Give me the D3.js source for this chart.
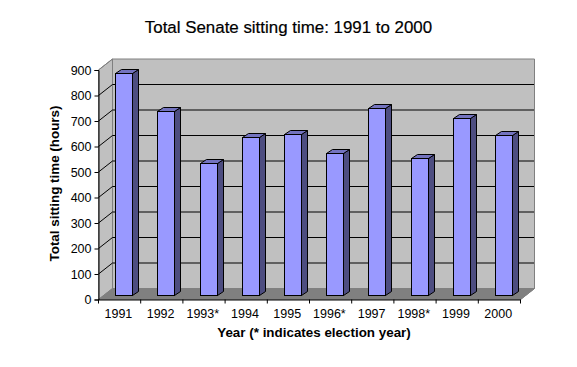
<!DOCTYPE html>
<html>
<head>
<meta charset="utf-8">
<script src="https://cdn.jsdelivr.net/npm/d3@7"></script>
<style>
html, body { margin: 0; padding: 0; background: #fff; }
svg { display: block; }
text { font-family: "Liberation Sans", Arial, sans-serif; fill: #000; }
</style>
</head>
<body>
<div class="container"></div>
<script>
const WIDTH = 577;
const HEIGHT = 367;

// front plane of the 3D box
const LEFT = 98.5, RIGHT = 520.5, TOP = 70, BOTTOM = 299.5;
// depth of the box and of each bar
const DEPTH_X = 14, DEPTH_Y = 11;
const BAR_X = 6, BAR_Y = 4;

var years = ['1991', '1992', '1993*', '1994', '1995', '1996*', '1997', '1998*', '1999', '2000'];
var hours = [871, 722, 518, 622, 633, 558, 735, 538, 695, 628];
var yTicks = [0, 100, 200, 300, 400, 500, 600, 700, 800, 900];

var xScale = d3.scaleBand()
    .domain(years)
    .range([LEFT, RIGHT])
    .paddingInner(0.6)
    .paddingOuter(0.3);

var yScale = d3.scaleLinear()
    .domain([0, 900])
    .range([BOTTOM, TOP]);

var poly = function(pts) {
    return pts.map(function(p) { return p.join(','); }).join(' ');
};

var svg = d3.select('.container').append('svg')
    .attr('width', WIDTH)
    .attr('height', HEIGHT);

// walls and floor
svg.append('polygon')
    .attr('points', poly([[LEFT + DEPTH_X, TOP - DEPTH_Y], [RIGHT + DEPTH_X, TOP - DEPTH_Y], [RIGHT + DEPTH_X, BOTTOM - DEPTH_Y], [LEFT + DEPTH_X, BOTTOM - DEPTH_Y]]))
    .attr('fill', '#c0c0c0')
    .attr('stroke', '#808080');
svg.append('polygon')
    .attr('points', poly([[LEFT, TOP], [LEFT + DEPTH_X, TOP - DEPTH_Y], [LEFT + DEPTH_X, BOTTOM - DEPTH_Y], [LEFT, BOTTOM]]))
    .attr('fill', '#c0c0c0')
    .attr('stroke', '#808080');
svg.append('polygon')
    .attr('points', poly([[LEFT, BOTTOM], [LEFT + DEPTH_X, BOTTOM - DEPTH_Y], [RIGHT + DEPTH_X, BOTTOM - DEPTH_Y], [RIGHT, BOTTOM]]))
    .attr('fill', '#808080')
    .attr('stroke', '#808080');

// gridlines, slanted up the side wall then across the back
svg.append('g').selectAll('polyline')
    .data(yTicks.slice(1, -1))
    .join('polyline')
    .attr('points', function(d) {
        var y = yScale(d);
        return poly([[LEFT, y], [LEFT + DEPTH_X, y - DEPTH_Y], [RIGHT + DEPTH_X, y - DEPTH_Y]]);
    })
    .attr('fill', 'none')
    .attr('stroke', '#000');

svg.append('polyline')
    .attr('points', poly([[RIGHT, BOTTOM], [RIGHT + DEPTH_X, BOTTOM - DEPTH_Y], [RIGHT + DEPTH_X, TOP - DEPTH_Y]]))
    .attr('fill', 'none')
    .attr('stroke', '#808080');
svg.append('line')
    .attr('x1', LEFT).attr('y1', TOP)
    .attr('x2', LEFT + DEPTH_X).attr('y2', TOP - DEPTH_Y)
    .attr('stroke', '#808080');

// bars
var bars = svg.append('g').selectAll('g')
    .data(years)
    .join('g')
    .attr('stroke', '#000')
    .attr('stroke-width', 1)
    .attr('stroke-linejoin', 'miter');

var barLeft = function(d) { return Math.round(xScale(d) + BAR_Y) + 0.5; };
var barRight = function(d) { return barLeft(d) + 17; };
var barTop = function(d, i) { return Math.round(yScale(hours[i]) - BAR_Y) + 0.5; };
var barBase = BOTTOM - BAR_Y;

bars.append('polygon')
    .attr('points', function(d, i) {
        return poly([[barRight(d), barTop(d, i)], [barRight(d) + BAR_X, barTop(d, i) - BAR_Y], [barRight(d) + BAR_X, barBase - BAR_Y], [barRight(d), barBase]]);
    })
    .attr('fill', '#4d4d80');

bars.append('polygon')
    .attr('points', function(d, i) {
        return poly([[barLeft(d), barTop(d, i)], [barLeft(d) + BAR_X, barTop(d, i) - BAR_Y], [barRight(d) + BAR_X, barTop(d, i) - BAR_Y], [barRight(d), barTop(d, i)]]);
    })
    .attr('fill', '#7373bf');

bars.append('rect')
    .attr('x', barLeft)
    .attr('y', barTop)
    .attr('width', function(d) { return barRight(d) - barLeft(d); })
    .attr('height', function(d, i) { return barBase - barTop(d, i); })
    .attr('fill', '#9999ff');

// axes
var yAxis = d3.axisLeft(yScale).tickValues(yTicks).tickSize(4).tickPadding(3);
var yG = svg.append('g')
    .attr('transform', 'translate(' + LEFT + ',0)')
    .call(yAxis);
yG.selectAll('text').attr('font-size', 12.5).style('font-family', '"Liberation Sans", Arial, sans-serif');

var xAxis = d3.axisBottom(xScale).tickSize(0).tickPadding(10);
var xG = svg.append('g')
    .attr('transform', 'translate(0,' + BOTTOM + ')')
    .call(xAxis);
xG.selectAll('text').attr('font-size', 12.5).style('font-family', '"Liberation Sans", Arial, sans-serif');
xG.selectAll('.tick').attr('transform', function(d) {
    return 'translate(' + (xScale(d) + xScale.bandwidth() / 2 - 1.2) + ',0)';
});
xG.select('.domain').attr('d', 'M' + LEFT + ',0.5H' + RIGHT);

// tick marks sit between the categories
xG.selectAll('line.sep')
    .data(d3.range(years.length + 1))
    .join('line')
    .attr('class', 'sep')
    .attr('x1', function(i) { return LEFT + i * xScale.step(); })
    .attr('x2', function(i) { return LEFT + i * xScale.step(); })
    .attr('y1', 0)
    .attr('y2', 4)
    .attr('stroke', '#000');

// titles
svg.append('text')
    .attr('x', 288.5).attr('y', 33)
    .attr('text-anchor', 'middle')
    .attr('font-size', 16.9)
    .attr('stroke', '#000')
    .attr('stroke-width', 0.2)
    .text('Total Senate sitting time: 1991 to 2000');

svg.append('text')
    .attr('x', 314).attr('y', 337)
    .attr('text-anchor', 'middle')
    .attr('font-size', 13.4)
    .attr('font-weight', 'bold')
    .text('Year (* indicates election year)');

svg.append('text')
    .attr('transform', 'translate(59,183.5) rotate(-90)')
    .attr('text-anchor', 'middle')
    .attr('font-size', 13.4)
    .attr('font-weight', 'bold')
    .text('Total sitting time (hours)');
</script>
</body>
</html>
